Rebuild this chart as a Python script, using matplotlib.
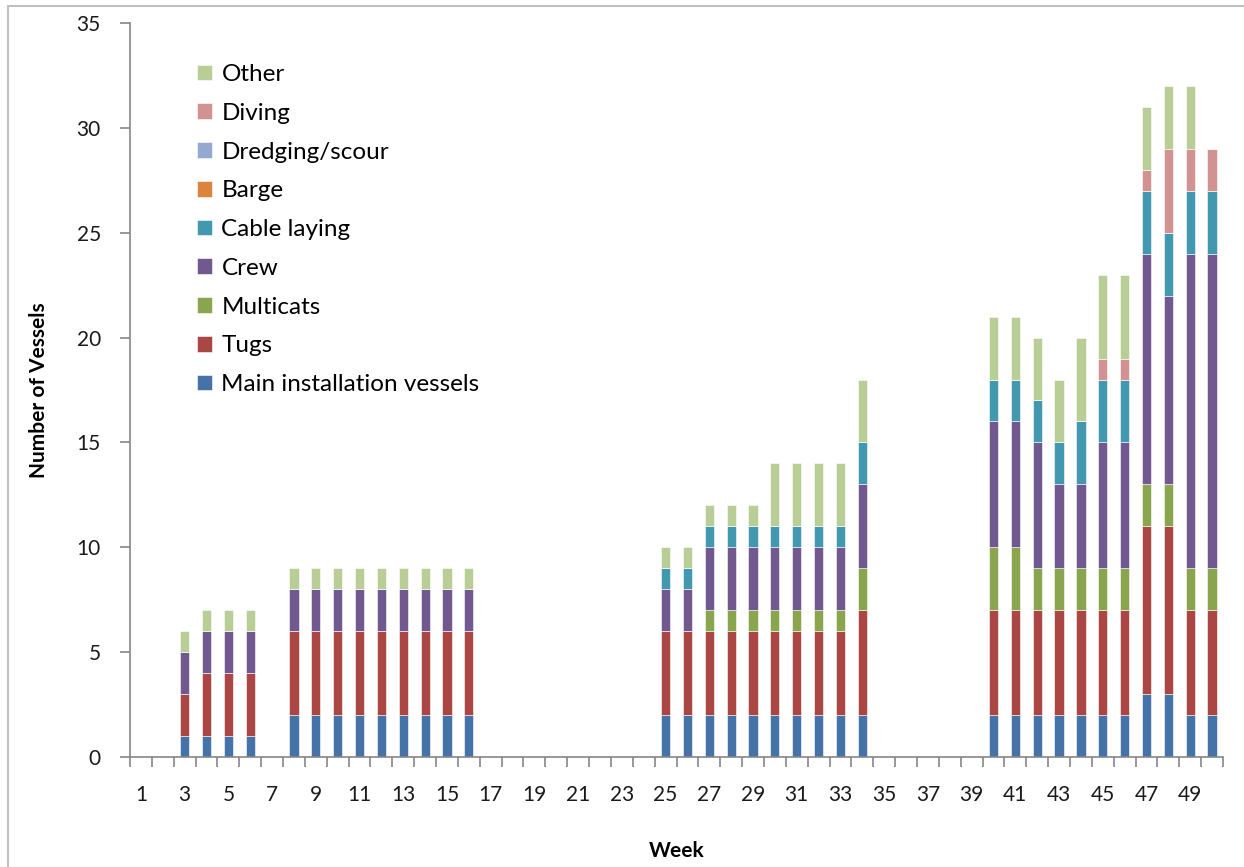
import numpy as np
import matplotlib
matplotlib.use('Agg')
from matplotlib import pyplot as plt
from matplotlib.patches import Rectangle
from matplotlib.ticker import FixedLocator, NullFormatter

weeks = list(range(1, 51))

# vessel counts per week (weeks 1..50)
main_install = [0, 0, 1, 1, 1, 1, 0, 2, 2, 2, 2, 2, 2, 2, 2, 2,
                0, 0, 0, 0, 0, 0, 0, 0, 2, 2, 2, 2, 2, 2, 2, 2, 2, 2,
                0, 0, 0, 0, 0, 2, 2, 2, 2, 2, 2, 2, 3, 3, 2, 2]
tugs = [0, 0, 2, 3, 3, 3, 0, 4, 4, 4, 4, 4, 4, 4, 4, 4,
        0, 0, 0, 0, 0, 0, 0, 0, 4, 4, 4, 4, 4, 4, 4, 4, 4, 5,
        0, 0, 0, 0, 0, 5, 5, 5, 5, 5, 5, 5, 8, 8, 5, 5]
multicats = [0, 0, 0, 0, 0, 0, 0, 0, 0, 0, 0, 0, 0, 0, 0, 0,
             0, 0, 0, 0, 0, 0, 0, 0, 0, 0, 1, 1, 1, 1, 1, 1, 1, 2,
             0, 0, 0, 0, 0, 3, 3, 2, 2, 2, 2, 2, 2, 2, 2, 2]
crew = [0, 0, 2, 2, 2, 2, 0, 2, 2, 2, 2, 2, 2, 2, 2, 2,
        0, 0, 0, 0, 0, 0, 0, 0, 2, 2, 3, 3, 3, 3, 3, 3, 3, 4,
        0, 0, 0, 0, 0, 6, 6, 6, 4, 4, 6, 6, 11, 9, 15, 15]
cable_laying = [0, 0, 0, 0, 0, 0, 0, 0, 0, 0, 0, 0, 0, 0, 0, 0,
                0, 0, 0, 0, 0, 0, 0, 0, 1, 1, 1, 1, 1, 1, 1, 1, 1, 2,
                0, 0, 0, 0, 0, 2, 2, 2, 2, 3, 3, 3, 3, 3, 3, 3]
barge = [0] * 50
dredging = [0] * 50
diving = [0, 0, 0, 0, 0, 0, 0, 0, 0, 0, 0, 0, 0, 0, 0, 0,
          0, 0, 0, 0, 0, 0, 0, 0, 0, 0, 0, 0, 0, 0, 0, 0, 0, 0,
          0, 0, 0, 0, 0, 0, 0, 0, 0, 0, 1, 1, 1, 4, 2, 2]
other = [0, 0, 1, 1, 1, 1, 0, 1, 1, 1, 1, 1, 1, 1, 1, 1,
         0, 0, 0, 0, 0, 0, 0, 0, 1, 1, 1, 1, 1, 3, 3, 3, 3, 3,
         0, 0, 0, 0, 0, 3, 3, 3, 3, 4, 4, 4, 3, 3, 3, 0]

series = [
    ('Main installation vessels', main_install, '#4572A7'),
    ('Tugs', tugs, '#AA4643'),
    ('Multicats', multicats, '#89A54E'),
    ('Crew', crew, '#71588F'),
    ('Cable laying', cable_laying, '#4198AF'),
    ('Barge', barge, '#DB843D'),
    ('Dredging/scour', dredging, '#93A9CF'),
    ('Diving', diving, '#D19392'),
    ('Other', other, '#B9CD96'),
]

plt.rcParams['font.family'] = ['Lato', 'DejaVu Sans']

fig = plt.figure(figsize=(12.44, 8.67), dpi=100)
fig.patches.append(Rectangle((8 / 1244, -0.05), 1.2, 1.05 - 6 / 867, transform=fig.transFigure,
                             fill=False, edgecolor='#c0c0c0', lw=1.5, zorder=0))
ax = fig.add_axes([130 / 1244, 110 / 867, 1093 / 1244, 734 / 867])

x = np.array(weeks)
bottom = np.zeros(len(weeks))
handles = []
for name, vals, color in series:
    vals = np.array(vals, dtype=float)
    b = ax.bar(x, vals, width=0.42, bottom=bottom, color=color,
               edgecolor='white', linewidth=0.4, label=name)
    handles.append(b)
    bottom += vals

ax.set_xlim(0.5, 50.5)
ax.set_ylim(0, 35)
ax.set_yticks(range(0, 36, 5))
ax.set_xticks(range(1, 50, 2))
ax.set_xticklabels([str(w) for w in range(1, 50, 2)])
ax.xaxis.set_minor_locator(FixedLocator(np.arange(0.5, 51, 1)))
ax.xaxis.set_minor_formatter(NullFormatter())
ax.tick_params(axis='x', which='major', length=0, pad=20, labelsize=15, labelcolor='#1a1a1a')
ax.tick_params(axis='x', which='minor', length=7, color='#868686', width=1.2)
ax.tick_params(axis='y', length=7, color='#868686', width=1.2, labelsize=15,
               labelcolor='#1a1a1a', pad=14)

for s in ['top', 'right']:
    ax.spines[s].set_visible(False)
for s in ['left', 'bottom']:
    ax.spines[s].set_color('#868686')
    ax.spines[s].set_linewidth(1.2)

ax.set_ylabel('Number of Vessels', fontsize=15, fontweight='bold', labelpad=20)
ax.set_xlabel('Week', fontsize=15, fontweight='bold', labelpad=26)

leg = ax.legend(handles[::-1], [s[0] for s in series][::-1], loc='upper left',
                bbox_to_anchor=(0.061, 0.944), frameon=False, fontsize=17.5,
                handlelength=0.62, handleheight=0.62, handletextpad=0.4,
                labelspacing=0.73, borderpad=0, borderaxespad=0)

fig.savefig('out.png', dpi=100)
